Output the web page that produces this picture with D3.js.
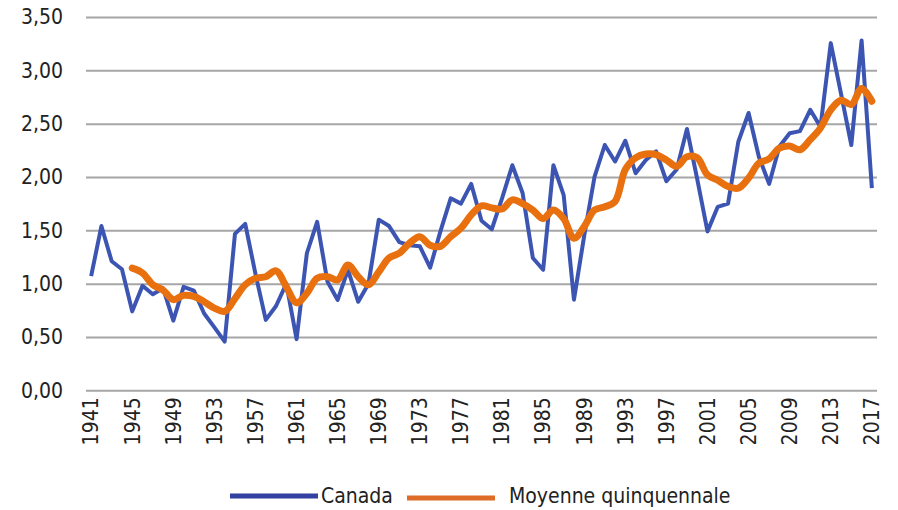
<!DOCTYPE html>
<html><head><meta charset="utf-8">
<script src="https://cdn.jsdelivr.net/npm/d3@7"></script>
<style>
body{margin:0;background:#fff;}
text{font-family:"DejaVu Sans Condensed","Liberation Sans Narrow","Liberation Sans",sans-serif;fill:#222;}
</style></head><body>
<svg id="c" width="898" height="510"></svg>
<script>
const years = d3.range(1941, 2018);
const canada = [1.07,1.54,1.21,1.135,0.74,0.98,0.90,0.957,0.653,0.97,
0.934,0.72,0.59,0.456,1.466,1.56,1.09,0.66,0.79,1.00,
0.48,1.285,1.58,1.02,0.847,1.13,0.83,1.0,1.60,1.54,
1.39,1.36,1.35,1.15,1.49,1.80,1.75,1.935,1.59,1.51,
1.80,2.11,1.85,1.24,1.13,2.11,1.83,0.85,1.45,2.0,
2.30,2.145,2.34,2.035,2.16,2.24,1.96,2.07,2.45,1.98,
1.49,1.72,1.75,2.33,2.60,2.19,1.935,2.285,2.41,2.43,
2.63,2.47,3.255,2.78,2.30,3.28,1.895];
const avgYears = d3.range(1945, 2018);
const moyenne = [1.145,1.10,0.99,0.94,0.85,0.89,0.88,0.83,0.77,0.74,
0.86,0.99,1.05,1.065,1.12,0.97,0.82,0.91,1.05,1.065,
1.035,1.175,1.065,0.99,1.11,1.24,1.285,1.38,1.44,1.36,
1.35,1.44,1.52,1.645,1.73,1.71,1.70,1.785,1.75,1.69,
1.61,1.69,1.61,1.425,1.535,1.69,1.72,1.77,2.07,2.18,
2.215,2.21,2.16,2.10,2.19,2.18,2.02,1.97,1.91,1.895,
1.99,2.13,2.17,2.27,2.29,2.255,2.35,2.46,2.63,2.72,
2.68,2.83,2.71];
const yTicks = [0,0.5,1,1.5,2,2.5,3,3.5];
const xTickYears = d3.range(1941, 2018, 4);
const seriesNames = ["Canada","Moyenne quinquennale"];
const colors = ["#3D55B2","#E8700F"];
const legendColors = ["#32409F","#DE6C27"];

const svg = d3.select("#c");
const L = 86, R = 877, T = 17, B = 390.3;
const x = d3.scaleBand().domain(years).range([L, R]);
const xc = d => x(d) + x.bandwidth()/2;
const y = d3.scaleLinear().domain([0,3.5]).range([B, T]);
const fmt = v => d3.format(".2f")(v).replace(".", ",");

// grid
const yAxis = d3.axisLeft(y).tickValues(yTicks).tickFormat(fmt).tickSize(-(R-L)).tickPadding(23);
const gy = svg.append("g").attr("transform", `translate(${L},0)`).call(yAxis);
gy.select(".domain").remove();
gy.selectAll(".tick line").attr("stroke", "#A6A6A6").attr("stroke-width", 2);
gy.selectAll(".tick text").attr("font-size", 21).style("fill","#222");

// x axis labels
const xAxis = d3.axisBottom(x).tickValues(xTickYears).tickSize(0).tickPadding(0);
const gx = svg.append("g").attr("transform", `translate(0,${B})`).call(xAxis);
gx.select(".domain").remove();
gx.selectAll(".tick text")
  .attr("font-size", 21)
  .attr("transform", "rotate(-90)")
  .attr("text-anchor", "end")
  .attr("x", -7).attr("y", 0).attr("dy", "0.35em")
  .style("fill","#222");

// lines
const line1 = d3.line().x((d,i) => xc(years[i])).y(d => y(d));
svg.append("path").datum(canada).attr("d", line1)
  .attr("fill","none").attr("stroke", colors[0]).attr("stroke-width", 4).attr("stroke-linejoin","round");
const line2 = d3.line().x((d,i) => xc(avgYears[i])).y(d => y(d)).curve(d3.curveCatmullRom.alpha(0.5));
svg.append("path").datum(moyenne).attr("d", line2)
  .attr("fill","none").attr("stroke", colors[1]).attr("stroke-width", 7).attr("stroke-linecap","round").attr("stroke-linejoin","round");

// legend
const leg = [{x1:230,x2:318,y:496,tx:321},{x1:407,x2:495,y:498,tx:509}];
leg.forEach((l,i)=>{
  svg.append("line").attr("x1",l.x1).attr("x2",l.x2).attr("y1",l.y).attr("y2",l.y)
    .attr("stroke",legendColors[i]).attr("stroke-width",5);
  svg.append("text").attr("x",l.tx).attr("y",496).attr("dy","0.35em").attr("font-size",21).text(seriesNames[i]);
});
</script></body></html>
